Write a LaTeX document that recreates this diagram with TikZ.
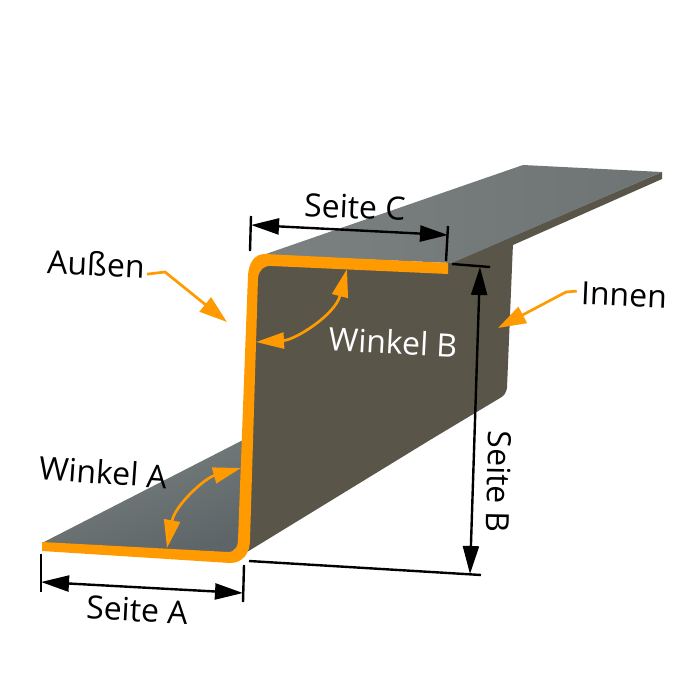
\documentclass[tikz,border=0pt]{standalone}
\usepackage{fontspec}
\setmainfont{Open Sans}
\usetikzlibrary{arrows.meta, calc, positioning}
\definecolor{web}{HTML}{5A5549}
\definecolor{flangedark}{HTML}{5E6568}
\definecolor{flangelight}{HTML}{7A8180}
\definecolor{cutorange}{HTML}{FF9A00}
\tikzstyle{lbl} = [inner sep=0pt, font=\fontsize{16}{16}\selectfont]
\tikzstyle{ticks} = [draw, black, line width=1.2pt]
\tikzstyle{dimline} = [draw, black, line width=1.2pt, {Triangle[length=14pt,width=8pt]}-{Triangle[length=14pt,width=8pt]}]
\tikzstyle{ang} = [draw, cutorange, line width=1.35pt, {Triangle[length=14pt,width=8pt]}-{Triangle[length=14pt,width=8pt]}]
\tikzstyle{call} = [draw, cutorange, line width=1.35pt, -{Triangle[length=14pt,width=9pt]}]

\begin{document}
\begin{tikzpicture}[x=0.5pt, y=-0.5pt]
    \useasboundingbox (0,0) rectangle (700,700);

    %%% Sheet.
    % web and underside
    \fill[web] (452,263) -- (513,243) -- (507,388) .. controls (506,393) and (504,396) .. (500,398)
      -- (430,440) -- (247,552) -- (245,400) -- (255,272) -- (268,262) -- cycle;
    \fill[web] (448,264) -- (662,172) -- (662,179) -- (513,245) -- (452,264) -- cycle;
    % upper flange
    \shade[left color=flangelight, right color=flangelight!90!black]
      (263,255) -- (523,165) -- (662,172) -- (452,263) -- cycle;
    % lower flange
    \shade[bottom color=flangedark, top color=flangelight, shading angle=20]
      (42,543) -- (243,440) -- (240,545) -- (230,553) -- cycle;
    % cut edge
    \fill[cutorange] (42,542) -- (228,552) .. controls (235,552) and (238,547) .. (238,540)
      -- (248,275) .. controls (249,262) and (255,254) .. (265,254)
      -- (448,263) -- (448,274) -- (272,266) .. controls (264,265) and (259,270) .. (258,278)
      -- (250,540) .. controls (250,553) and (243,563) .. (230,563) -- (42,551) -- cycle;

    %%% Nodes.
    \node[lbl, rotate=-2.5] (aussen) at (96,264) {Außen};
    \node[lbl, rotate=-2.5] (innen) at (624,295) {Innen};
    \node[lbl, rotate=-2.5] (sc) at (355,207) {Seite C};
    \node[lbl, rotate=-3, text=white] (wb) at (393,342) {Winkel B};
    \node[lbl, rotate=-4] (wa) at (103,472) {Winkel A};
    \node[lbl, rotate=-3] (sa) at (137,610) {Seite A};
    \node[lbl, rotate=-91] (sb) at (499,482) {Seite B};

    \coordinate (al) at (41,582);   \coordinate (ar) at (243,593);
    \coordinate (cl) at (251,225);  \coordinate (cr) at (448,235);
    \coordinate (bt) at (480,267);  \coordinate (bb) at (470,574);
    \coordinate (at1) at (41,554);  \coordinate (at2) at (41,592);
    \coordinate (ar1) at (244,565); \coordinate (ar2) at (243,602);
    \coordinate (ct1) at (251,216); \coordinate (ct2) at (250,251);
    \coordinate (cr1) at (448,226); \coordinate (cr2) at (446,261);
    \coordinate (bt1) at (452,264); \coordinate (bt2) at (490,267);
    \coordinate (bb1) at (249,561); \coordinate (bb2) at (481,575);
    \coordinate (wa1) at (241,468); \coordinate (wa2) at (167,548);
    \coordinate (wb1) at (256,342); \coordinate (wb2) at (347,269);
    \coordinate (au1) at (165,272); \coordinate (au2) at (227,322);
    \coordinate (in1) at (566,292); \coordinate (in2) at (498,328);

    %%% Edges.
    \path[dimline] (al) -- (ar);
    \path[dimline] (cl) -- (cr);
    \path[dimline] (bt) -- (bb);
    \foreach \a/\b in {at1/at2, ar1/ar2, ct1/ct2, cr1/cr2, bt1/bt2, bb1/bb2} {
      \path[ticks] (\a) -- (\b);
    }
    \path[ang] (wa1) .. controls (205,478) and (175,505) .. (wa2);
    \path[ang] (wb1) .. controls (295,340) and (335,315) .. (wb2);
    \path[call] (aussen.east) ++(2,8) -- (au1) -- (au2);
    \path[call] (innen.west) ++(-4,-2) -- (in1) -- (in2);
  \end{tikzpicture}
\end{document}
